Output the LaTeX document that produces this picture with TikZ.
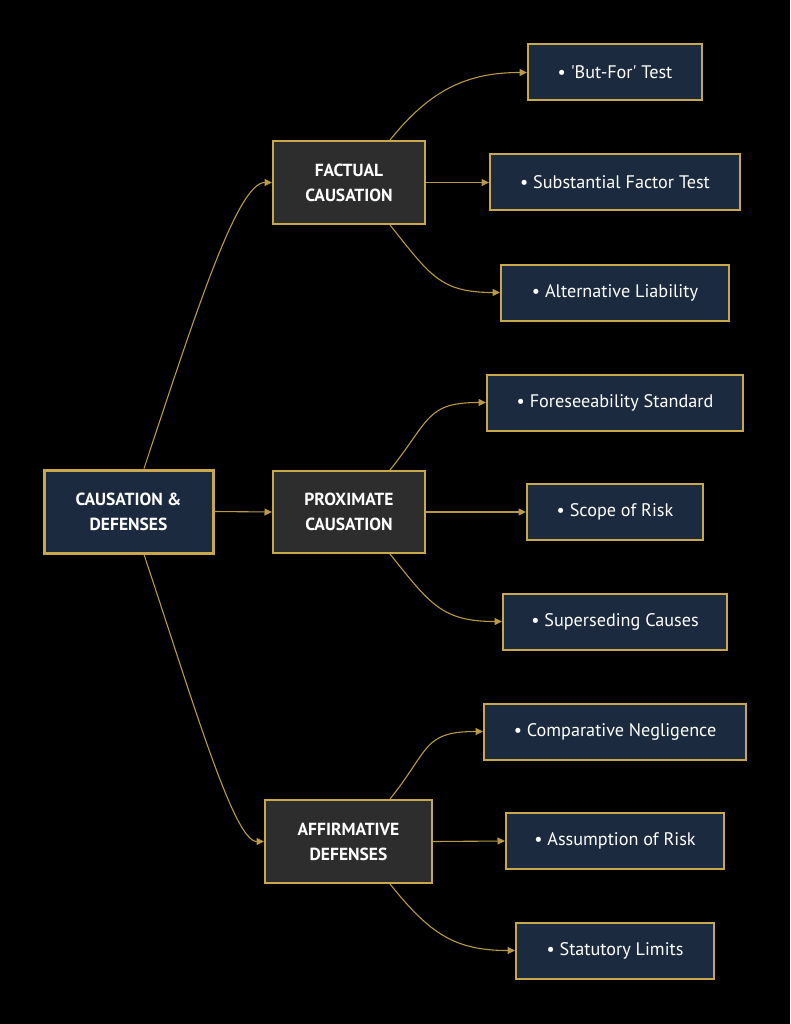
\documentclass[tikz,border=0pt]{standalone}
\usepackage{fontspec}
\setmainfont{PT Sans}[Ligatures=TeXOff]
\usetikzlibrary{arrows.meta}
\definecolor{gold}{HTML}{C9A84C}
\definecolor{edgegold}{HTML}{B89A45}
\definecolor{navy}{HTML}{1B2A3F}
\definecolor{dgray}{HTML}{2D2D2D}
\tikzset{
  base/.style={draw=gold, text=white, align=center, inner sep=0pt, font=\fontsize{18.2}{25}\selectfont},
  rootbox/.style={base, fill=navy, line width=3pt, font=\fontsize{17.5}{25}\selectfont\bfseries},
  midbox/.style={base, fill=dgray, line width=2pt, font=\fontsize{17.5}{25}\selectfont\bfseries},
  leafbox/.style={base, fill=navy, line width=2pt, minimum height=56pt},
  conn/.style={draw=edgegold, line width=1.1pt, -{Triangle[length=7.5pt,width=7pt]}}
}
\begin{document}
\begin{tikzpicture}[x=1pt,y=-1pt]
\fill[black] (0,0) rectangle (790,1024);
\useasboundingbox (0,0) rectangle (790,1024);
% root
\node[rootbox, minimum width=169pt, minimum height=83pt] (root) at (128.5,511.5) {CAUSATION \&\\DEFENSES};
% mid
\node[midbox, minimum width=152pt, minimum height=83pt] (fact) at (349,182.5) {FACTUAL\\CAUSATION};
\node[midbox, minimum width=152pt, minimum height=82pt] (prox) at (349,512) {PROXIMATE\\CAUSATION};
\node[midbox, minimum width=167pt, minimum height=83pt] (affd) at (348.5,841.5) {AFFIRMATIVE\\DEFENSES};
% leaves
\node[leafbox, minimum width=174pt] (l1) at (615,72.5) {• 'But-For' Test};
\node[leafbox, minimum width=250pt] (l2) at (615,182.5) {• Substantial Factor Test};
\node[leafbox, minimum width=228pt] (l3) at (615,292.5) {• Alternative Liability};
\node[leafbox, minimum width=256pt] (l4) at (615,402.5) {• Foreseeability Standard};
\node[leafbox, minimum width=176pt] (l5) at (615,512) {• Scope of Risk};
\node[leafbox, minimum width=224pt] (l6) at (615,621.5) {• Superseding Causes};
\node[leafbox, minimum width=262pt] (l7) at (615,731.5) {• Comparative Negligence};
\node[leafbox, minimum width=218pt] (l8) at (615,841) {• Assumption of Risk};
\node[leafbox, minimum width=198pt] (l9) at (615,950.5) {• Statutory Limits};
% root connectors
\draw[conn] ([xshift=15.5pt]root.north) .. controls +(50,-150) and +(-35,0) .. (fact.west);
\draw[conn] (root.east) -- (prox.west);
\draw[conn] ([xshift=15.5pt]root.south) .. controls +(50,150) and +(-30,0) .. (affd.west);
% factual
\draw[conn] ([xshift=41pt]fact.north) .. controls +(40,-50) and +(-60,0) .. (l1.west);
\draw[conn] (fact.east) -- (l2.west);
\draw[conn] ([xshift=41pt]fact.south) .. controls +(40,50) and +(-60,0) .. (l3.west);
% proximate
\draw[conn] ([xshift=41pt]prox.north) .. controls +(40,-50) and +(-60,0) .. (l4.west);
\draw[conn] (prox.east) -- (l5.west);
\draw[conn] ([xshift=41pt]prox.south) .. controls +(40,50) and +(-60,0) .. (l6.west);
% affirmative
\draw[conn] ([xshift=41.5pt]affd.north) .. controls +(40,-50) and +(-60,0) .. (l7.west);
\draw[conn] (affd.east) -- (l8.west);
\draw[conn] ([xshift=41.5pt]affd.south) .. controls +(40,50) and +(-60,0) .. (l9.west);
\end{tikzpicture}
\end{document}
